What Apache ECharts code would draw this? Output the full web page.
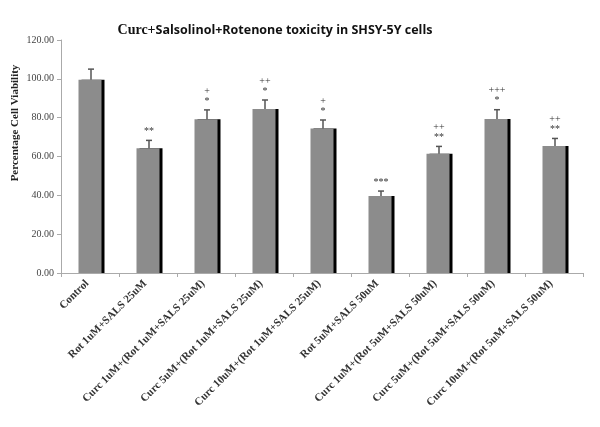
<!DOCTYPE html>
<html><head><meta charset="utf-8">
<script src="https://cdn.jsdelivr.net/npm/echarts@6/dist/echarts.min.js"></script>
<style>html,body{margin:0;padding:0;background:#fff}#c{width:600px;height:427px}</style>
</head><body><div id="c"></div>
<script>
var categories = ["Control","Rot 1uM+SALS 25uM","Curc 1uM+(Rot 1uM+SALS 25uM)","Curc 5uM+(Rot 1uM+SALS 25uM)","Curc 10uM+(Rot 1uM+SALS 25uM)","Rot 5uM+SALS 50uM","Curc 1uM+(Rot 5uM+SALS 50uM)","Curc 5uM+(Rot 5uM+SALS 50uM)","Curc 10uM+(Rot 5uM+SALS 50uM)"];
var values = [99.5, 64.3, 79.2, 84.4, 74.4, 39.6, 61.4, 79.3, 65.4];
var errors = [5.5, 4.0, 4.8, 4.7, 4.4, 2.6, 3.8, 4.8, 3.9];
var sigTop = ["", "", "+", "++", "+", "", "++", "+++", "++"];
var sigBottom = ["", "**", "*", "*", "*", "***", "**", "*", "**"];
var yTicks = [0, 20, 40, 60, 80, 100, 120];

var chart = echarts.init(document.getElementById('c'));
var errData = values.map(function(v,i){ return [i, v, v+errors[i]]; });
chart.setOption({
  animation:false,
  title:{
    text:'{s|Curc+}{b|Salsolinol+Rotenone toxicity in SHSY-5Y cells}',
    left:270, top:18, textAlign:'center',
    textStyle:{rich:{
      s:{fontFamily:'Liberation Serif', fontSize:14, color:'#111'},
      b:{fontFamily:'Open Sans', fontWeight:'bold', fontSize:12.5, color:'#111'}
    }}
  },
  graphic:[{type:'text', x:15, y:123, rotation:Math.PI/2,
    style:{text:'Percentage Cell Viability', align:'center', verticalAlign:'middle',
      font:'bold 11px "Liberation Serif"', fill:'#222'}}],
  grid:{left:61, right:17, top:40, bottom:154},
  xAxis:{
    type:'category', data:categories,
    axisLine:{lineStyle:{color:'#aaa', width:1}},
    axisTick:{show:true, alignWithLabel:false, length:4, lineStyle:{color:'#aaa'}},
    axisLabel:{rotate:45, interval:0, margin:6, padding:[0,4,0,0], fontFamily:'Liberation Serif', fontWeight:'bold', fontSize:11, color:'#333'}
  },
  yAxis:{
    type:'value', min:0, max:120, interval:20,
    splitLine:{show:false},
    axisLine:{show:true, lineStyle:{color:'#aaa'}},
    axisTick:{show:true, length:4, lineStyle:{color:'#aaa'}},
    axisLabel:{margin:7, fontFamily:'Liberation Serif', fontSize:10, color:'#444', formatter:function(v){return v.toFixed(2);}}
  },
  series:[
    {type:'bar', data:values, barWidth:23,
     itemStyle:{color:'#8c8c8c', shadowColor:'#000', shadowOffsetX:3, shadowOffsetY:0, shadowBlur:0}},
    {type:'custom', data:errData, z:5,
     renderItem:function(params, api){
       var i = api.value(0);
       var b = api.coord([i, api.value(1)]);
       var t = api.coord([i, api.value(2)]);
       var x = b[0]+1;
       var ch = [
         {type:'line', shape:{x1:x, y1:b[1], x2:x, y2:t[1]}, style:{stroke:'#555', lineWidth:1.5}},
         {type:'line', shape:{x1:x-3, y1:t[1], x2:x+3, y2:t[1]}, style:{stroke:'#555', lineWidth:1.5}}
       ];
       if (sigBottom[i]) ch.push({type:'text', style:{text:sigBottom[i], x:x, y:t[1]-4, textAlign:'center', textVerticalAlign:'bottom', font:'10px "Liberation Serif"', fill:'#333'}});
       if (sigTop[i]) ch.push({type:'text', style:{text:sigTop[i], x:x, y:t[1]-14, textAlign:'center', textVerticalAlign:'bottom', font:'10px "Liberation Serif"', fill:'#333'}});
       return {type:'group', children:ch};
     }}
  ]
});
</script></body></html>
